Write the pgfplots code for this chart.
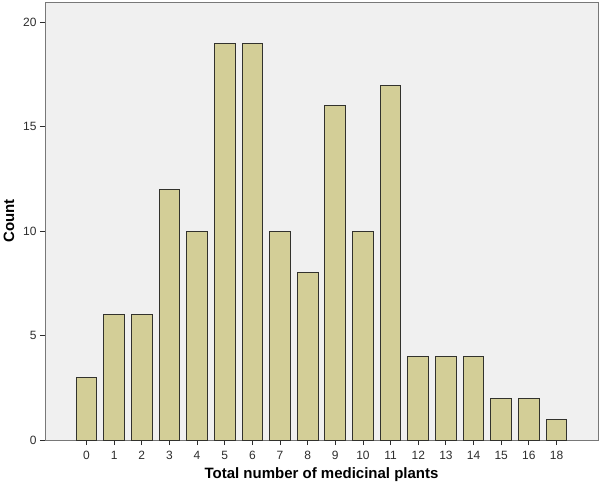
\documentclass[border=0pt]{standalone}
\usepackage{pgfplots}
\pgfplotsset{compat=1.18}
\usepackage{fontspec}
\setmainfont{Liberation Sans}
\definecolor{bgc}{RGB}{240,240,240}
\definecolor{barc}{RGB}{211,206,151}
\definecolor{edgec}{RGB}{50,50,45}
\definecolor{axc}{RGB}{120,120,120}
\definecolor{txtc}{RGB}{45,45,45}
\begin{document}
\begin{tikzpicture}
\path (-45pt,-44pt) rectangle (555pt,440pt);
\begin{axis}[
  at={(0pt,0pt)}, anchor=south west,
  scale only axis, width=553pt, height=438pt,
  xmin=-1.5, xmax=18.5, ymin=0, ymax=20.98,
  axis background/.style={fill=bgc},
  axis line style={axc, line width=0.8pt},
  xtick={0,...,17},
  xticklabels={0,1,2,3,4,5,6,7,8,9,10,11,12,13,14,15,16,18},
  ytick={0,5,10,15,20},
  tick align=outside, tick pos=left,
  major tick length=5pt,
  tick style={color=txtc, line width=0.9pt},
  ticklabel style={font=\fontsize{12}{14}\selectfont, text=txtc},
  xticklabel style={yshift=-3pt},
  /pgf/number format/assume math mode=true,
  xlabel={Total number of medicinal plants},
  ylabel={Count},
  label style={font=\fontsize{15}{17}\selectfont\bfseries, text=black},
  xlabel style={yshift=-1pt},
  ylabel style={yshift=2pt},
  ybar, bar width=0.75,
]
\addplot[fill=barc, draw=edgec, line width=1pt] coordinates {
(0,3) (1,6) (2,6) (3,12) (4,10) (5,19) (6,19) (7,10) (8,8) (9,16)
(10,10) (11,17) (12,4) (13,4) (14,4) (15,2) (16,2) (17,1)};
\end{axis}
\end{tikzpicture}
\end{document}
